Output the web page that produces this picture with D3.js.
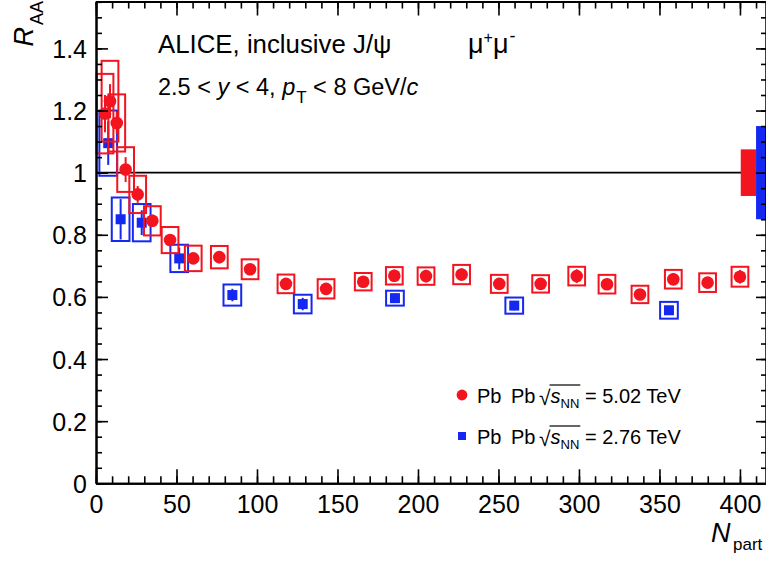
<!DOCTYPE html>
<html>
<head>
<meta charset="utf-8">
<script src="https://cdn.jsdelivr.net/npm/d3@7"></script>
<style>
html,body{margin:0;padding:0;background:#fff;}
svg{display:block;font-family:"Liberation Sans",Arial,sans-serif;}
</style>
</head>
<body>
<svg id="chart" width="766" height="562"></svg>
<script>
// ---- data ----
const npart502 = [5.6, 8.7, 12.9, 18.4, 25.9, 35.0, 46.0, 60.4, 76.6, 95.7, 118.0, 142.9, 166.0, 185.3, 205.0, 227.1, 250.5, 276.2, 298.6, 317.4, 337.9, 358.6, 379.9, 400.0];
const raa502   = [1.19, 1.23, 1.16, 1.01, 0.93, 0.845, 0.783, 0.724, 0.728, 0.689, 0.642, 0.626, 0.649, 0.668, 0.667, 0.672, 0.642, 0.642, 0.667, 0.641, 0.608, 0.657, 0.646, 0.665];
const stat502  = [0.06, 0.055, 0.035, 0.04, 0.027, 0.02, 0.018, 0.015, 0.02, 0.012, 0.012, 0.012, 0.015, 0.02, 0.02, 0.02, 0.012, 0.012, 0.022, 0.018, 0.012, 0.02, 0.015, 0.022];
const syst502  = [0.128, 0.13, 0.092, 0.072, 0.06, 0.047, 0.042, 0.041, 0.036, 0.032, 0.030, 0.031, 0.028, 0.028, 0.028, 0.031, 0.029, 0.028, 0.030, 0.030, 0.028, 0.030, 0.030, 0.032];

const npart276 = [7.6, 15.3, 28.4, 51.7, 84.7, 128.4, 185.7, 259.8, 355.9];
const raa276   = [1.095, 0.85, 0.839, 0.724, 0.606, 0.577, 0.596, 0.572, 0.557];
const stat276  = [0.07, 0.065, 0.04, 0.035, 0.02, 0.02, 0.015, 0.015, 0.012];
const syst276  = [0.105, 0.07, 0.06, 0.044, 0.034, 0.03, 0.024, 0.026, 0.027];

const globalUnc = [ {label:"5.02", lo:400.5, hi:410, unc:0.075}, {label:"2.76", lo:410, hi:420, unc:0.15} ];

const xMajorTicks = [0, 50, 100, 150, 200, 250, 300, 350, 400];
const xMinorTicks = d3.range(0, 420, 10);
const yMajorTicks = [0, 0.2, 0.4, 0.6, 0.8, 1, 1.2, 1.4];
const yMinorTicks = d3.range(0, 1.56, 0.05);

const RED = "#f2141e";
const BLUE = "#1428f2";

// ---- scales ----
const svg = d3.select("#chart");
const x = d3.scaleLinear().domain([0, 416.8]).range([96, 767]);
const y = d3.scaleLinear().domain([0, 1.551]).range([483.3, 1.5]);

// reference line at 1
svg.append("line").attr("x1", x(0)).attr("x2", x(416.8)).attr("y1", y(1)).attr("y2", y(1))
  .attr("stroke", "#000").attr("stroke-width", 1.8);

// global uncertainty boxes
svg.selectAll("rect.glob").data(globalUnc).enter().append("rect")
  .attr("x", d => x(d.lo)).attr("width", d => x(d.hi) - x(d.lo))
  .attr("y", d => y(1 + d.unc)).attr("height", d => y(1 - d.unc) - y(1 + d.unc))
  .attr("fill", (d, i) => i === 0 ? RED : BLUE);

function drawSeries(np, raa, stat, syst, color, halfW, marker) {
  const data = np.map((n, i) => ({n, r: raa[i], st: stat[i], sy: syst[i]}));
  const g = svg.append("g");
  g.selectAll("rect.sys").data(data).enter().append("rect")
    .attr("x", d => x(d.n - halfW)).attr("width", d => x(d.n + halfW) - x(d.n - halfW))
    .attr("y", d => y(d.r + d.sy)).attr("height", d => y(d.r - d.sy) - y(d.r + d.sy))
    .attr("fill", "none").attr("stroke", color).attr("stroke-width", 2);
  g.selectAll("line.stat").data(data).enter().append("line")
    .attr("x1", d => x(d.n)).attr("x2", d => x(d.n))
    .attr("y1", d => y(d.r + d.st)).attr("y2", d => y(d.r - d.st))
    .attr("stroke", color).attr("stroke-width", 2);
  if (marker === "circle") {
    g.selectAll("circle").data(data).enter().append("circle")
      .attr("cx", d => x(d.n)).attr("cy", d => y(d.r)).attr("r", 6.3).attr("fill", color);
  } else {
    g.selectAll("rect.mk").data(data).enter().append("rect")
      .attr("x", d => x(d.n) - 5).attr("y", d => y(d.r) - 5)
      .attr("width", 10).attr("height", 10).attr("fill", color);
  }
}
drawSeries(npart276, raa276, stat276, syst276, BLUE, 5.5, "square");
drawSeries(npart502, raa502, stat502, syst502, RED, 5.2, "circle");

// ---- axes ----
function styleAxis(g) {
  g.selectAll("path.domain").attr("stroke", "#000").attr("stroke-width", 2);
  g.selectAll(".tick line").attr("stroke", "#000").attr("stroke-width", 1.6);
  g.selectAll(".tick text").attr("fill", "#000").attr("font-size", 25)
    .attr("font-family", "Liberation Sans, Arial, sans-serif");
}
const yBot = y(0), yTop = y(1.551), xL = x(0), xR = x(416.8);

// bottom minor/major
svg.append("g").attr("transform", `translate(0,${yBot})`)
  .call(d3.axisBottom(x).tickValues(xMinorTicks).tickSizeInner(-7).tickSizeOuter(0).tickFormat(""))
  .call(styleAxis);
svg.append("g").attr("transform", `translate(0,${yBot})`)
  .call(d3.axisBottom(x).tickValues(xMajorTicks).tickSizeInner(-14).tickSizeOuter(0).tickPadding(10).tickFormat(d3.format("d")))
  .call(styleAxis)
  .call(g => g.selectAll(".tick text").attr("dy", "0.72em").attr("y", 12));
// top
svg.append("g").attr("transform", `translate(0,${yTop})`)
  .call(d3.axisTop(x).tickValues(xMinorTicks).tickSizeInner(-7).tickSizeOuter(0).tickFormat(""))
  .call(styleAxis);
svg.append("g").attr("transform", `translate(0,${yTop})`)
  .call(d3.axisTop(x).tickValues(xMajorTicks).tickSizeInner(-14).tickSizeOuter(0).tickFormat(""))
  .call(styleAxis);
// left
svg.append("g").attr("transform", `translate(${xL},0)`)
  .call(d3.axisLeft(y).tickValues(yMinorTicks).tickSizeInner(-6).tickSizeOuter(0).tickFormat(""))
  .call(styleAxis);
svg.append("g").attr("transform", `translate(${xL},0)`)
  .call(d3.axisLeft(y).tickValues(yMajorTicks).tickSizeInner(-12).tickSizeOuter(0).tickPadding(9).tickFormat(d => d === 0 ? "0" : d === 1 ? "1" : d3.format(".1f")(d)))
  .call(styleAxis)
  .call(g => g.selectAll(".tick text").attr("dy", "0.36em"));
// right
svg.append("g").attr("transform", `translate(${xR - 1},0)`)
  .call(d3.axisRight(y).tickValues(yMinorTicks).tickSizeInner(-5).tickSizeOuter(0).tickFormat(""))
  .call(styleAxis);
svg.append("g").attr("transform", `translate(${xR - 1},0)`)
  .call(d3.axisRight(y).tickValues(yMajorTicks).tickSizeInner(-10).tickSizeOuter(0).tickFormat(""))
  .call(styleAxis);

// ---- axis titles ----
const xt = svg.append("text").attr("x", 711).attr("y", 542).attr("font-size", 27).attr("fill", "#000");
xt.append("tspan").attr("font-style", "italic").text("N");
xt.append("tspan").attr("font-size", 17).attr("x", 733).attr("y", 550).text("part");

const yt = svg.append("text").attr("transform", "translate(33,1) rotate(-90)")
  .attr("text-anchor", "end").attr("font-size", 27).attr("fill", "#000");
yt.append("tspan").attr("font-style", "italic").text("R");
yt.append("tspan").attr("font-size", 18).attr("dx", 2).attr("dy", 10).text("AA");

// ---- header ----
svg.append("text").attr("x", 158).attr("y", 53).attr("font-size", 25.8).attr("fill", "#000")
  .text("ALICE, inclusive J/\u03C8");
const mu = svg.append("text").attr("x", 468).attr("y", 53).attr("font-size", 27).attr("fill", "#000");
mu.append("tspan").text("\u03BC");
mu.append("tspan").attr("font-size", 16).attr("dy", -10).text("+");
mu.append("tspan").attr("dy", 10).text("\u03BC");
mu.append("tspan").attr("font-size", 18).attr("dy", -11).attr("dx", 1).text("-");

const l2 = svg.append("text").attr("x", 158).attr("y", 95).attr("font-size", 23.5).attr("fill", "#000");
l2.append("tspan").text("2.5 < ");
l2.append("tspan").attr("font-style", "italic").text("y");
l2.append("tspan").text(" < 4, ");
l2.append("tspan").attr("font-style", "italic").text("p");
l2.append("tspan").attr("font-size", 17).attr("dx", 1).attr("dy", 8).text("T");
l2.append("tspan").attr("dy", -8).text(" < 8 GeV/");
l2.append("tspan").attr("font-style", "italic").text("c");

// ---- legend ----
const legendItems = [
  {energy: "5.02", color: RED, marker: "circle", yb: 403},
  {energy: "2.76", color: BLUE, marker: "square", yb: 444}
];
legendItems.forEach(it => {
  if (it.marker === "circle") {
    svg.append("circle").attr("cx", 462).attr("cy", it.yb - 8).attr("r", 5.4).attr("fill", it.color);
  } else {
    svg.append("rect").attr("x", 458).attr("y", it.yb - 12).attr("width", 8).attr("height", 8).attr("fill", it.color);
  }
  const t = svg.append("text").attr("x", 477).attr("y", it.yb).attr("font-size", 20).attr("fill", "#000");
  t.append("tspan").text("Pb");
  t.append("tspan").attr("x", 511).text("Pb");
  t.append("tspan").attr("x", 539).attr("font-size", 21).attr("dy", 2).text("\u221A");
  t.append("tspan").attr("font-style", "italic").attr("dy", -2).text("s");
  t.append("tspan").attr("font-size", 13).attr("dy", 5).text("NN");
  t.append("tspan").attr("dy", -5).attr("x", 585).text("= " + it.energy + " TeV");
  // overline for the square root
  const node = t.node();
  const full = node.textContent;
  const iS = full.indexOf("s");
  const iN = full.lastIndexOf("N");
  const p1 = node.getEndPositionOfChar(iN);
  const pr = node.getEndPositionOfChar(iS - 1);
  svg.append("line").attr("x1", pr.x - 1).attr("x2", p1.x + 1)
    .attr("y1", it.yb - 18).attr("y2", it.yb - 18).attr("stroke", "#000").attr("stroke-width", 1.2);
});
</script>
</body>
</html>
